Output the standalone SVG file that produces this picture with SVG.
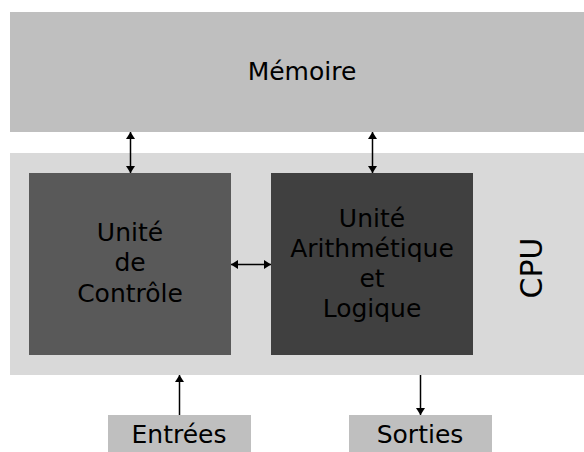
<svg xmlns="http://www.w3.org/2000/svg" width="584" height="452" viewBox="0 0 584 452">
  <style>
    text { font-family: "DejaVu Sans", Verdana, sans-serif; fill: #000; text-anchor: middle; }
    .lbl { font-size: 25px; }
    .conn line { stroke: #000; stroke-width: 1.5; }
  </style>
  <defs>
    <marker id="ah" viewBox="0 0 7 9" refX="7" refY="4.5" markerWidth="7" markerHeight="9" markerUnits="userSpaceOnUse" orient="auto-start-reverse">
      <path d="M0,0 L7,4.5 L0,9 z" fill="#000"/>
    </marker>
  </defs>
  <rect width="584" height="452" fill="#fff"/>
  <g id="memoire">
    <rect x="10" y="12" width="574" height="120" fill="#bfbfbf"/>
    <text class="lbl" x="302" y="80">Mémoire</text>
  </g>
  <g id="cpu">
    <rect x="10" y="153" width="574" height="222" fill="#d9d9d9"/>
    <text x="542" y="268" font-size="30" transform="rotate(-90 542 268)">CPU</text>
  </g>
  <g id="controle">
    <rect x="29" y="173" width="202" height="182" fill="#595959"/>
    <text class="lbl" x="130" y="240.5">Unité</text>
    <text class="lbl" x="130" y="271">de</text>
    <text class="lbl" x="130" y="301.5">Contrôle</text>
  </g>
  <g id="alu">
    <rect x="271" y="173" width="202" height="182" fill="#404040"/>
    <text class="lbl" x="372" y="226.5">Unité</text>
    <text class="lbl" x="372" y="257">Arithmétique</text>
    <text class="lbl" x="372" y="287">et</text>
    <text class="lbl" x="372" y="317">Logique</text>
  </g>
  <g id="entrees">
    <rect x="108" y="415" width="143" height="37" fill="#bfbfbf"/>
    <text class="lbl" x="179" y="443">Entrées</text>
  </g>
  <g id="sorties">
    <rect x="349" y="415" width="143" height="37" fill="#bfbfbf"/>
    <text class="lbl" x="420" y="443">Sorties</text>
  </g>
  <g class="conn" id="connectors">
    <line x1="130.5" y1="132" x2="130.5" y2="173" marker-start="url(#ah)" marker-end="url(#ah)"/>
    <line x1="372.5" y1="132" x2="372.5" y2="173" marker-start="url(#ah)" marker-end="url(#ah)"/>
    <line x1="231" y1="264.5" x2="271" y2="264.5" marker-start="url(#ah)" marker-end="url(#ah)"/>
    <line x1="179.5" y1="415" x2="179.5" y2="375" marker-end="url(#ah)"/>
    <line x1="420.5" y1="375" x2="420.5" y2="415" marker-end="url(#ah)"/>
  </g>
</svg>
